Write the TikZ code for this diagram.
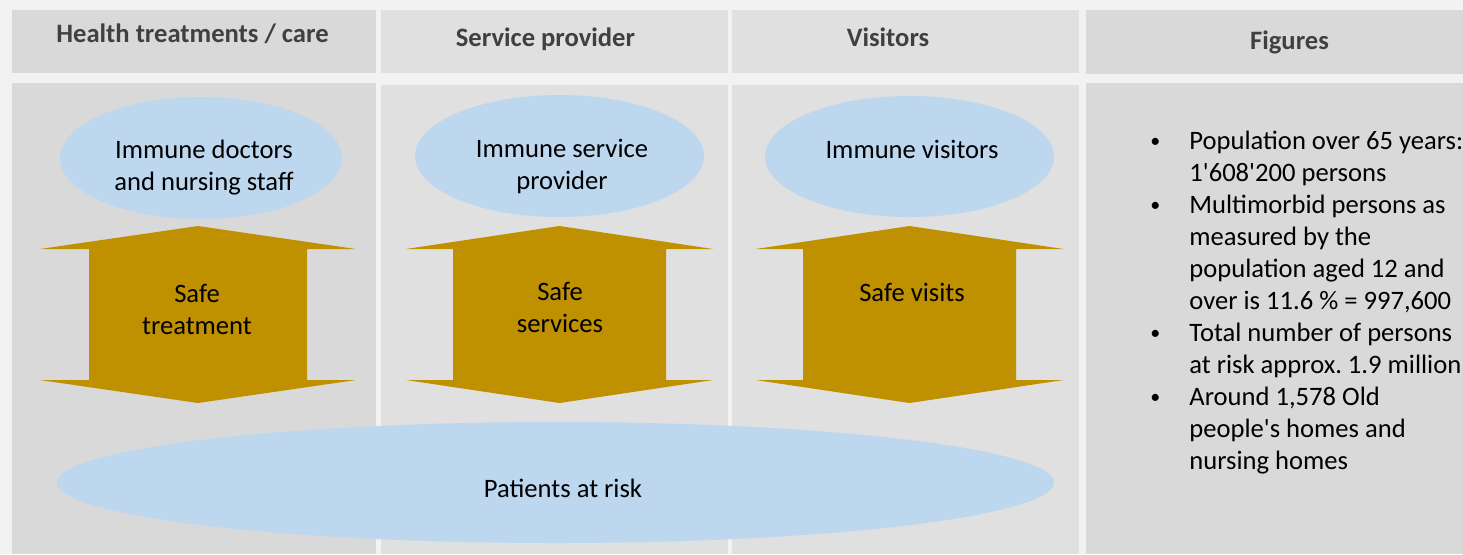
\documentclass[tikz,border=0pt]{standalone}
\usepackage{fontspec}
\setmainfont{Carlito}
\usepackage{color}
\usetikzlibrary{calc}

\definecolor{pagegray}{HTML}{F2F2F2}
\definecolor{darkcol}{HTML}{D9D9D9}
\definecolor{lightcol}{HTML}{E0E0E0}
\definecolor{headtext}{HTML}{404040}
\definecolor{ovalblue}{HTML}{BDD7EE}
\definecolor{arrowgold}{HTML}{BF9000}

% two-headed up/down arrow: centre x, wing half width, shaft half width
\newcommand\twoway[3]{%
  \fill[color=arrowgold] (#1,226) -- ({#1+#2},249) -- ({#1+#3},249)
    -- ({#1+#3},380) -- ({#1+#2},380) -- (#1,403) -- ({#1-#2},380)
    -- ({#1-#3},380) -- ({#1-#3},249) -- ({#1-#2},249) -- cycle;}
\newcommand\factdot{\raisebox{0.8pt}{\fontsize{10}{16}\selectfont\textbullet}}

\begin{document}
\begin{tikzpicture}[x=0.5pt,y=-0.5pt,
  head/.style={font=\fontsize{13.3}{16}\selectfont\bfseries,color=headtext,anchor=base},
  lbl/.style={font=\fontsize{13.3}{16}\selectfont,align=center,anchor=base}]

\useasboundingbox (0,0) rectangle (1463,554);
\fill[color=pagegray] (0,0) rectangle (1463,554);

% columns
\fill[color=darkcol]  (12,10)   rectangle (376,73);
\fill[color=darkcol]  (12,83)   rectangle (376,554);
\fill[color=lightcol] (381,10)  rectangle (728,73);
\fill[color=lightcol] (381,85)  rectangle (728,554);
\fill[color=lightcol] (732,10)  rectangle (1079,73);
\fill[color=lightcol] (732,85)  rectangle (1079,554);
\fill[color=darkcol]  (1086,10) rectangle (1463,74);
\fill[color=darkcol]  (1086,83) rectangle (1463,554);

\node[head] (hcare)    at (192.5,42.5) {Health treatments / care};
\node[head] (hservice) at (545.5,46) {Service provider};
\node[head] (hvisit)   at (888,46)   {Visitors};
\node[head] (hfig)     at (1289.5,49.5) {Figures};

% immune groups
\fill[color=ovalblue] (201,158)   ellipse[x radius=141,y radius=61];
\fill[color=ovalblue] (559.5,156) ellipse[x radius=144.5,y radius=61];
\fill[color=ovalblue] (909.5,156.5) ellipse[x radius=144.5,y radius=60.5];

% base = last line
\node[lbl] (doctors)  at (204,190) {Immune doctors\\and nursing staff};
\node[lbl] (provider) at (562,189) {Immune service\\provider};
\node[lbl] (visitors) at (912,158) {Immune visitors};

% safe contact
\twoway{198}{158}{109}
\twoway{559.5}{153.5}{106.5}
\twoway{909.5}{154}{106.5}

\node[lbl] (treat)    at (197,334) {Safe\\treatment};
\node[lbl] (services) at (560,332) {Safe\\services};
\node[lbl] (visits)   at (912,301) {Safe visits};

% patients
\fill[color=ovalblue] (555.5,482.5) ellipse[x radius=498.5,y radius=60.5];
\node[lbl] (risk) at (563,497) {Patients at risk};

% figures
\node[font=\fontsize{13.3}{16}\selectfont,inner sep=0pt,anchor=north west] (facts)
  at (1150,126.6)
  {\frenchspacing
   \begin{tabular}{@{}p{19.5pt}@{}l@{}}
   \factdot & Population over 65 years:\\
            & 1\textquotesingle 608\textquotesingle 200 persons\\
   \factdot & Multimorbid persons as\\
            & measured by the\\
            & population aged 12 and\\
            & over is 11.6 \% = 997,600\\
   \factdot & Total number of persons\\
            & at risk approx. 1.9 million\\
   \factdot & Around 1,578 Old\\
            & people\textquotesingle s homes and\\
            & nursing homes
   \end{tabular}};

\end{tikzpicture}
\end{document}
